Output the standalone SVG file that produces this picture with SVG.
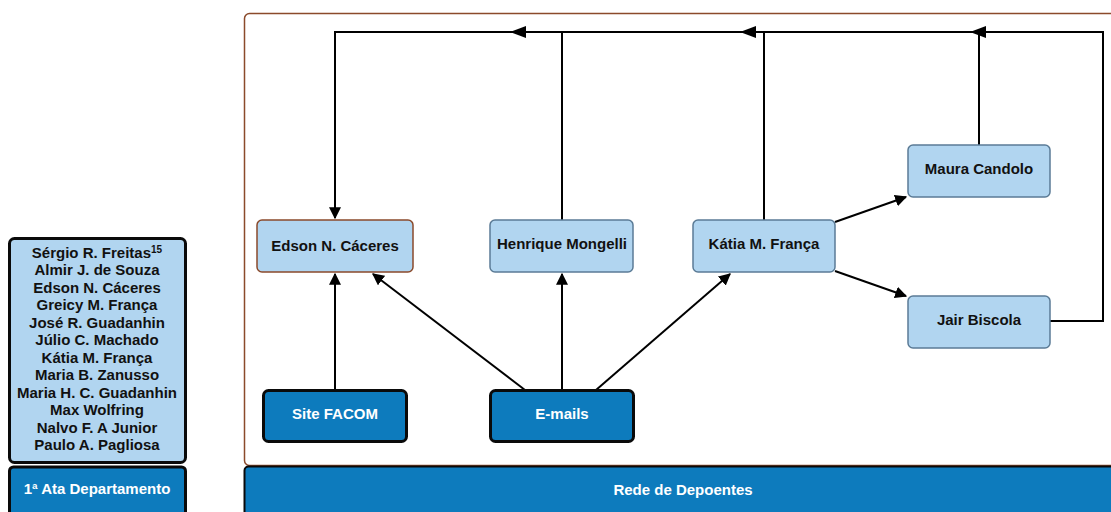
<svg xmlns="http://www.w3.org/2000/svg" width="1111" height="512" viewBox="0 0 1111 512">
<style>
text{font-family:"Liberation Sans",Arial,sans-serif;font-weight:bold;text-anchor:middle}
.lb{fill:#b1d5f0;stroke:#5b7b96;stroke-width:1.5}
.db{fill:#0d7bbd;stroke:#0a0a0a;stroke-width:3}
.lbl{font-size:15px;fill:#111}
.wl{font-size:15px;fill:#fff}
.ln{fill:none;stroke:#000;stroke-width:2}
.ah{fill:#000}
.lst{font-size:15px;fill:#111}
</style>
<defs>
<marker id="arr" viewBox="0 0 10 10" refX="9" refY="5" markerWidth="12" markerHeight="12" markerUnits="userSpaceOnUse" orient="auto">
<path d="M0,0 L10,5 L0,10 z" fill="#000"/>
</marker>
</defs>
<g id="container">
<rect x="244.5" y="13.5" width="880" height="452" rx="5" fill="#fff" stroke="#8b4a2b" stroke-width="1.5"/>
</g>
<g id="rede">
<rect x="244.5" y="466.5" width="880" height="60" rx="4" fill="#0d7bbd" stroke="#0a0a0a" stroke-width="2"/>
<text x="683" y="495" class="wl">Rede de Depoentes</text>
</g>
<g id="lista">
<rect x="9.5" y="238.5" width="176" height="224" rx="5" fill="#b1d5f0" stroke="#0a0a0a" stroke-width="3"/>
<text class="lst" x="97" y="257.5">Sérgio R. Freitas<tspan font-size="10" dy="-5">15</tspan></text>
<text class="lst" x="97" y="275">Almir  J. de Souza</text>
<text class="lst" x="97" y="292.5">Edson N. Cáceres</text>
<text class="lst" x="97" y="310">Greicy M. França</text>
<text class="lst" x="97" y="327.5">José R. Guadanhin</text>
<text class="lst" x="97" y="345">Júlio C. Machado</text>
<text class="lst" x="97" y="362.5">Kátia M. França</text>
<text class="lst" x="97" y="380">Maria B. Zanusso</text>
<text class="lst" x="97" y="397.5">Maria H. C. Guadanhin</text>
<text class="lst" x="97" y="415">Max Wolfring</text>
<text class="lst" x="97" y="432.5">Nalvo F. A Junior</text>
<text class="lst" x="97" y="450">Paulo A. Pagliosa</text>
</g>
<g id="ata">
<rect x="9.5" y="467" width="176" height="60" rx="4" fill="#0d7bbd" stroke="#0a0a0a" stroke-width="3"/>
<text x="97" y="494" class="wl" font-size="14.5">1ª Ata Departamento</text>
</g>
<g id="connectors">
<line class="ln" x1="335" y1="390" x2="335" y2="274" marker-end="url(#arr)"/>
<line class="ln" x1="525" y1="390" x2="373" y2="274" marker-end="url(#arr)"/>
<line class="ln" x1="562" y1="390" x2="562" y2="274" marker-end="url(#arr)"/>
<line class="ln" x1="596" y1="390" x2="730" y2="274" marker-end="url(#arr)"/>
<line class="ln" x1="835" y1="222" x2="906" y2="197" marker-end="url(#arr)"/>
<line class="ln" x1="835" y1="271" x2="906" y2="296" marker-end="url(#arr)"/>
<path class="ln" d="M562,220 V32 H335 V218" marker-end="url(#arr)"/>
<path class="ln" d="M764,220 V32 H562"/>
<path class="ln" d="M979,145 V32 H764"/>
<path class="ln" d="M1050,321 H1103 V32 H979"/>
<polygon class="ah" points="510,32 526,26 526,38"/>
<polygon class="ah" points="740,32 756,26 756,38"/>
<polygon class="ah" points="970,32 986,26 986,38"/>
</g>
<g id="edson">
<rect x="257" y="220" width="156" height="52" rx="5" fill="#b1d5f0" stroke="#8b4a2b" stroke-width="1.5"/>
<text x="335" y="251" class="lbl">Edson N. Cáceres</text>
</g>
<g id="henrique">
<rect x="490" y="220" width="143" height="52" rx="5" class="lb"/>
<text x="562" y="249" class="lbl">Henrique Mongelli</text>
</g>
<g id="katia">
<rect x="693" y="220" width="142" height="52" rx="5" class="lb"/>
<text x="764" y="249" class="lbl">Kátia M. França</text>
</g>
<g id="maura">
<rect x="908" y="145" width="142" height="52" rx="5" class="lb"/>
<text x="979" y="174" class="lbl">Maura Candolo</text>
</g>
<g id="jair">
<rect x="908" y="296" width="142" height="52" rx="5" class="lb"/>
<text x="979" y="325" class="lbl">Jair Biscola</text>
</g>
<g id="site">
<rect x="263.5" y="390.5" width="143" height="51" rx="5" class="db"/>
<text x="335" y="419" class="wl">Site FACOM</text>
</g>
<g id="emails">
<rect x="490.5" y="390.5" width="143" height="51" rx="5" class="db"/>
<text x="562" y="419" class="wl">E-mails</text>
</g>
</svg>
